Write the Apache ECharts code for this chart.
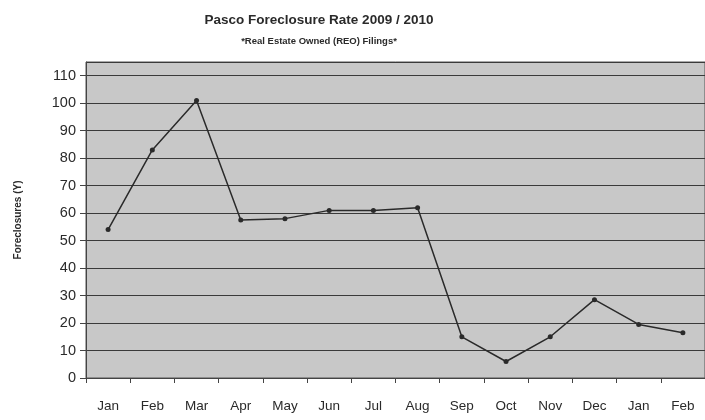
<!DOCTYPE html>
<html>
<head>
<meta charset="utf-8">
<script src="https://cdn.jsdelivr.net/npm/echarts@6/dist/echarts.min.js"></script>
<style>html,body{margin:0;padding:0;background:#fff;}#c{width:705px;height:420px;}</style>
</head>
<body>
<div id="c"></div>
<script>
var categories = ['Jan','Feb','Mar','Apr','May','Jun','Jul','Aug','Sep','Oct','Nov','Dec','Jan','Feb'];
var foreclosures = [54, 83, 101, 57.5, 58, 61, 61, 62, 15, 6, 15, 28.5, 19.5, 16.5];
var titleText = 'Pasco Foreclosure Rate 2009 / 2010';
var subtitleText = '*Real Estate Owned (REO) Filings*';
var yAxisName = 'Foreclosures (Y)';

var chart = echarts.init(document.getElementById('c'), null, {renderer: 'canvas'});
chart.setOption({
  backgroundColor: '#ffffff',
  animation: false,
  title: {
    text: titleText,
    subtext: subtitleText,
    left: 314,
    textAlign: 'center',
    top: 8,
    itemGap: 9,
    textStyle: {fontFamily: 'Liberation Sans, Arial, sans-serif', fontSize: 13.5, fontWeight: 'bold', fontStyle: 'normal', color: '#2a2a2a'},
    subtextStyle: {fontFamily: 'Liberation Sans, Arial, sans-serif', fontSize: 9.5, fontWeight: 'bold', fontStyle: 'normal', color: '#2a2a2a'}
  },
  grid: {
    left: 86, right: -7, top: 62, bottom: 42,
    show: true,
    backgroundColor: '#c8c8c8',
    borderColor: '#555',
    borderWidth: 1
  },
  xAxis: {
    type: 'category',
    data: categories,
    boundaryGap: true,
    axisLine: {lineStyle: {color: '#444', width: 1}},
    axisTick: {show: true, alignWithLabel: false, length: 5, lineStyle: {color: '#444'}},
    axisLabel: {fontFamily: 'Liberation Sans, Arial, sans-serif', fontSize: 13.5, color: '#2a2a2a', margin: 21, interval: 0}
  },
  yAxis: {
    type: 'value',
    min: 0, max: 115, interval: 10,
    name: yAxisName,
    nameLocation: 'middle',
    nameRotate: 90,
    nameGap: 63,
    nameTextStyle: {fontFamily: 'Liberation Sans, Arial, sans-serif', fontSize: 10, fontWeight: 'bold', color: '#2a2a2a'},
    axisLine: {show: true, lineStyle: {color: '#444', width: 1}},
    axisTick: {show: true, length: 6, lineStyle: {color: '#444'}},
    axisLabel: {fontFamily: 'Liberation Sans, Arial, sans-serif', fontSize: 14.5, color: '#2a2a2a', margin: 10, showMaxLabel: false},
    splitLine: {show: true, lineStyle: {color: '#3a3a3a', width: 1.2}}
  },
  series: [{
    type: 'line',
    data: foreclosures,
    symbol: 'circle',
    symbolSize: 5,
    lineStyle: {color: '#2a2a2a', width: 1.5},
    itemStyle: {color: '#2a2a2a'}
  }]
});
</script>
</body>
</html>
